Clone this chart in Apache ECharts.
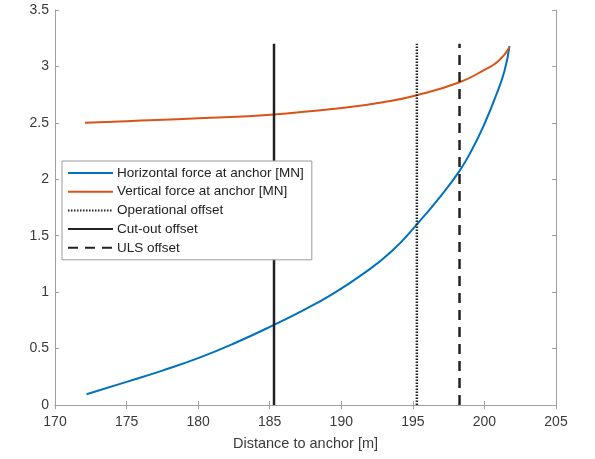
<!DOCTYPE html>
<html lang="en">
<head>
  <meta charset="UTF-8">
  <title>Anchor forces vs distance</title>
  <script src="https://cdn.jsdelivr.net/npm/echarts@6/dist/echarts.min.js"></script>
  <style>
    html, body { margin: 0; padding: 0; background: #fff; }
    #chart { width: 595px; height: 459px; }
  </style>
</head>
<body>
<div id="chart"></div>
<script>
  // horizontal force at anchor [MN]
  const distH = [172.2, 175, 177.5, 180, 182.5, 185.3, 187.5, 189.2, 191.5, 193.5, 195.28, 197, 198.26, 199.08, 200, 200.8, 201.4, 201.75];
  const forceH = [0.095, 0.205, 0.305, 0.415, 0.545, 0.71, 0.85, 0.97, 1.16, 1.36, 1.6, 1.86, 2.075, 2.25, 2.49, 2.74, 2.96, 3.18];

  // vertical force at anchor [MN]
  const distV = [172.1, 175, 180, 185.3, 190.6, 192.8, 195.28, 198.26, 200, 201, 201.75];
  const forceV = [2.50, 2.515, 2.54, 2.575, 2.64, 2.68, 2.745, 2.86, 2.97, 3.05, 3.17];

  // offsets (vertical markers)
  const offsetNames = ['Operational offset', 'Cut-out offset', 'ULS offset'];
  const offsetX = [195.28, 185.3, 198.26];
  const offsetTop = 3.2;

  const names = ['Horizontal force at anchor [MN]', 'Vertical force at anchor [MN]'].concat(offsetNames);

  const zip = (xs, ys) => xs.map((x, i) => [x, ys[i]]);
  const vline = x => [[x, 0], [x, offsetTop]];

  const axisGrey = '#a0a0a0';
  const labelColor = '#3a3a3a';
  const font = 'Liberation Sans, Arial, sans-serif';

  const chart = echarts.init(document.getElementById('chart'));
  const baseX = {
    type: 'value', min: 170, max: 205, interval: 5,
    axisLine: { lineStyle: { color: axisGrey } },
    axisTick: { inside: true, length: 4, lineStyle: { color: axisGrey } },
    splitLine: { show: false }
  };
  const baseY = {
    type: 'value', min: 0, max: 3.5, interval: 0.5,
    axisLine: { show: true, lineStyle: { color: axisGrey } },
    axisTick: { show: true, inside: true, length: 4, lineStyle: { color: axisGrey } },
    splitLine: { show: false }
  };

  const option = {
    animation: false,
    backgroundColor: '#fff',
    grid: { left: 55, right: 39, top: 10, bottom: 54 },
    xAxis: [
      Object.assign({}, baseX, {
        position: 'bottom',
        name: 'Distance to anchor [m]', nameLocation: 'middle', nameGap: 31,
        nameTextStyle: { color: labelColor, fontSize: 14.5, fontFamily: font },
        axisLabel: { color: labelColor, fontSize: 14, fontFamily: font, margin: 10 }
      }),
      Object.assign({}, baseX, { position: 'top', axisLabel: { show: false } })
    ],
    yAxis: [
      Object.assign({}, baseY, {
        position: 'left',
        axisLabel: { color: labelColor, fontSize: 14, fontFamily: font, margin: 6 }
      }),
      Object.assign({}, baseY, { position: 'right', axisLabel: { show: false } })
    ],
    legend: {
      orient: 'vertical',
      left: 62, top: 161,
      data: names,
      itemWidth: 45, itemHeight: 14, itemGap: 4.7,
      padding: [5, 8, 5, 5],
      itemStyle: { opacity: 0 },
      borderColor: '#9a9a9a', borderWidth: 1, backgroundColor: '#fff',
      textStyle: { color: '#222', fontSize: 13.5, fontFamily: font, padding: [0, 0, 0, -1] }
    },
    series: [
      { name: names[0], type: 'line', data: zip(distH, forceH), symbol: 'none', smooth: 0.5,
        lineStyle: { color: '#0072BD', width: 2 }, itemStyle: { color: '#0072BD' } },
      { name: names[1], type: 'line', data: zip(distV, forceV), symbol: 'none', smooth: 0.5,
        lineStyle: { color: '#D95319', width: 2 }, itemStyle: { color: '#D95319' } },
      { name: names[2], type: 'line', data: vline(offsetX[0]), symbol: 'none',
        lineStyle: { color: '#222', width: 2.5, type: [1.5, 1.5] }, itemStyle: { color: '#222' } },
      { name: names[3], type: 'line', data: vline(offsetX[1]), symbol: 'none',
        lineStyle: { color: '#222', width: 2.5 }, itemStyle: { color: '#222' } },
      { name: names[4], type: 'line', data: vline(offsetX[2]), symbol: 'none',
        lineStyle: { color: '#222', width: 2.5, type: [10, 7] }, itemStyle: { color: '#222' } }
    ]
  };
  chart.setOption(option);
</script>
</body>
</html>
